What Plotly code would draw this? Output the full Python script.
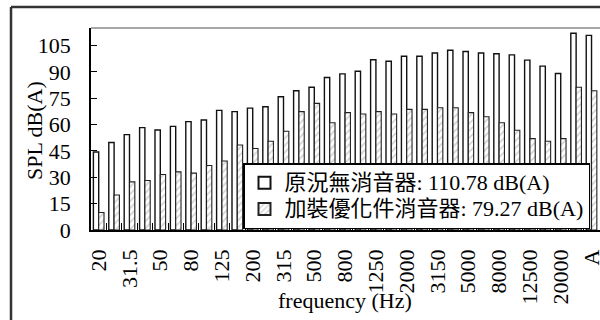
import plotly.graph_objects as go

categories = ["20", "25", "31.5", "40", "50", "63", "80", "100", "125", "160",
              "200", "250", "315", "400", "500", "630", "800", "1000", "1250", "1600",
              "2000", "2500", "3150", "4000", "5000", "6300", "8000", "10000", "12500", "16000",
              "20000", "L", "A"]
tick_labels = ["20", "", "31.5", "", "50", "", "80", "", "125", "",
               "200", "", "315", "", "500", "", "800", "", "1250", "",
               "2000", "", "3150", "", "5000", "", "8000", "", "12500", "",
               "20000", "", "A"]
original = [44.4, 49.8, 54.3, 58.3, 56.9, 59.0, 61.7, 62.6, 68.1, 67.4,
            69.4, 70.2, 75.9, 79.3, 81.3, 86.8, 88.9, 90.4, 96.9, 96.1,
            98.9, 98.9, 100.8, 102.3, 101.6, 100.8, 100.3, 99.7, 96.7, 93.3,
            89.1, 112.0, 110.78]
muffler = [10.0, 19.9, 27.4, 28.2, 31.6, 33.1, 32.4, 36.7, 39.3, 48.4,
           46.4, 50.5, 56.2, 67.4, 72.1, 61.1, 66.8, 66.0, 67.4, 66.0,
           68.7, 68.7, 69.6, 69.6, 66.8, 64.5, 61.1, 56.8, 52.0, 50.5,
           52.0, 81.3, 79.27]
y_ticks = [0, 15, 30, 45, 60, 75, 90, 105]
name_original = "原況無消音器: 110.78 dB(A)"
name_muffler = "加裝優化件消音器: 79.27 dB(A)"
x_title = "frequency (Hz)"
y_title = "SPL dB(A)"

FONT = "Liberation Serif, Times New Roman, Noto Sans CJK TC, serif"


def big(text):
    return '<span style="font-size:22px">' + text + "</span>"


fig = go.Figure()
fig.add_trace(go.Bar(
    x=categories, y=original, name=big(name_original),
    marker=dict(color="white", line=dict(color="#111111", width=1.4)),
))
fig.add_trace(go.Bar(
    x=categories, y=muffler, name=big(name_muffler),
    marker=dict(color="white", line=dict(color="#222222", width=1.1),
                pattern=dict(shape="/", fgcolor="#a0a0a0", bgcolor="white",
                             size=5, solidity=0.3)),
))

L, T, B = 91, 28, 90
W, H = 600, 320
pw = W - L
ph = H - T - B


def px_x(p):
    return (p - L) / pw


def px_y(p):
    return (H - B - p) / ph


fig.update_layout(
    width=W, height=H,
    margin=dict(l=L, r=0, t=T, b=B, pad=0, autoexpand=False),
    paper_bgcolor="white", plot_bgcolor="white",
    barmode="group", bargap=0.31, bargroupgap=0,
    font=dict(family=FONT, size=22, color="black"),
    showlegend=True,
    legend=dict(
        x=px_x(243), y=px_y(163), xanchor="left", yanchor="top",
        bgcolor="white", bordercolor="black", borderwidth=1.5,
        font=dict(family=FONT, size=18, color="black"),
        tracegroupgap=0, itemsizing="constant",
    ),
    xaxis=dict(
        type="category", range=[-0.5, 32.55], automargin=False,
        tickmode="array", tickvals=categories, ticktext=tick_labels,
        tickangle=-90, ticks="inside", tickson="boundaries", ticklen=7,
        tickcolor="black", tickwidth=1,
        showline=True, linecolor="black", linewidth=1.5,
        showgrid=False, zeroline=False,
        ticklabelstandoff=9,
        tickfont=dict(family=FONT, size=22),
    ),
    yaxis=dict(
        range=[0, 115], tickmode="array", tickvals=y_ticks, automargin=False,
        ticks="inside", ticklen=6, tickcolor="black", tickwidth=1,
        showline=True, linecolor="black", linewidth=1.5,
        showgrid=False, zeroline=False,
        ticklabelstandoff=14,
        tickfont=dict(family=FONT, size=22),
    ),
    annotations=[
        dict(text=x_title, xref="paper", yref="paper", x=px_x(345), y=px_y(300),
             xanchor="center", yanchor="middle", showarrow=False,
             font=dict(family=FONT, size=22)),
        dict(text=y_title, xref="paper", yref="paper", x=px_x(34), y=px_y(131),
             xanchor="center", yanchor="middle", showarrow=False, textangle=-90,
             font=dict(family=FONT, size=22)),
    ],
    shapes=[
        dict(type="line", xref="paper", yref="paper", x0=0, x1=1.01, y0=1, y1=1,
             line=dict(color="#a8a8a8", width=2)),
        dict(type="line", xref="paper", yref="paper", x0=px_x(11), x1=1.01,
             y0=px_y(7), y1=px_y(7), line=dict(color="#333333", width=2.5)),
        dict(type="line", xref="paper", yref="paper", x0=px_x(11), x1=px_x(11),
             y0=px_y(7), y1=px_y(330), line=dict(color="#333333", width=2.5)),
    ],
)

fig.write_html("out.html", config={"displayModeBar": False},
               post_script="document.body.style.margin='0';")
